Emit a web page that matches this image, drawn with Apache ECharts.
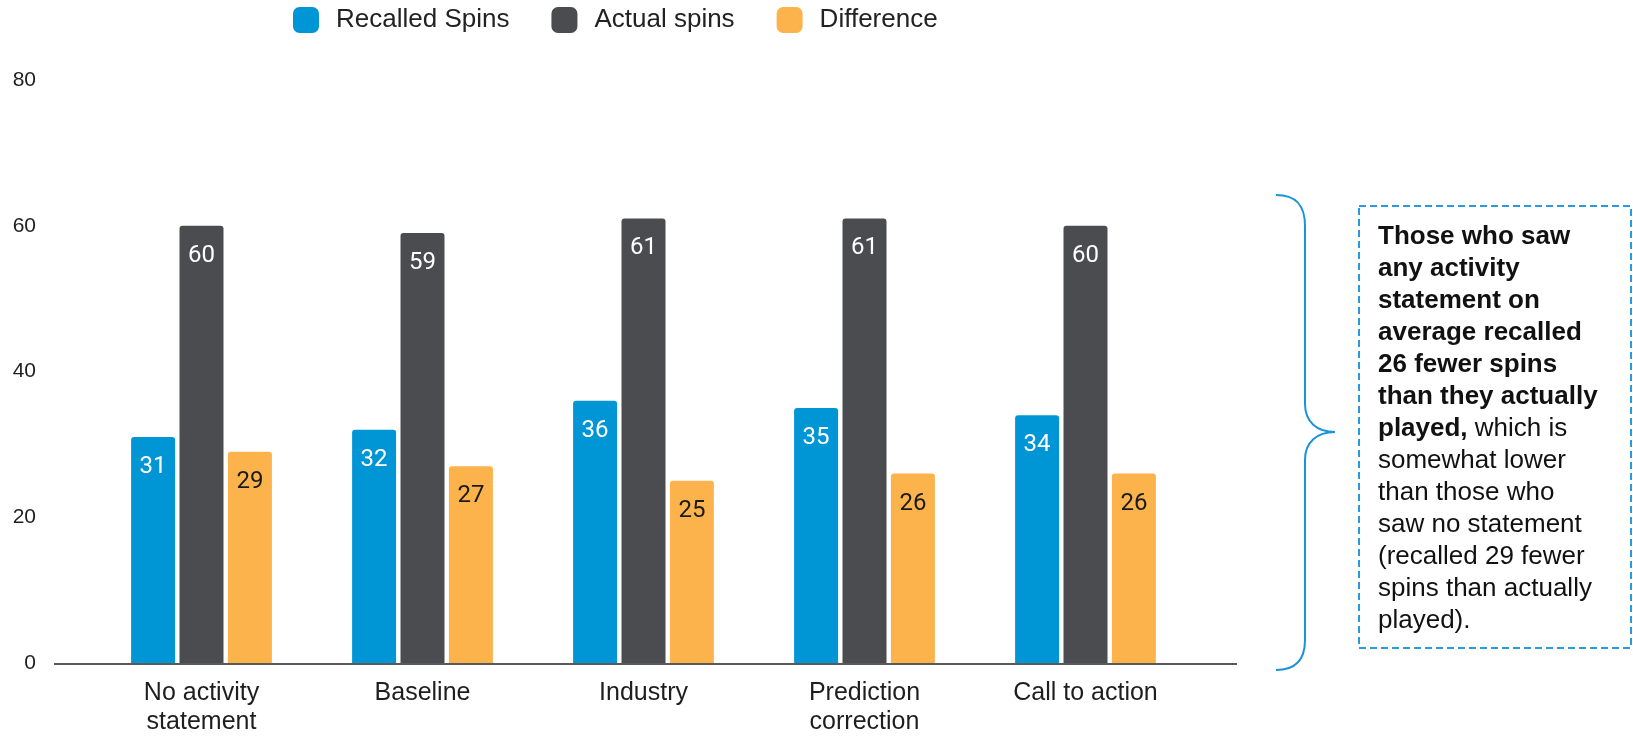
<!DOCTYPE html>
<html>
<head>
<meta charset="utf-8">
<title>Recalled vs actual spins</title>
<script src="https://cdn.jsdelivr.net/npm/echarts@6/dist/echarts.min.js"></script>
<style>
  html, body { margin: 0; padding: 0; background: #ffffff; }
  #chart { width: 1633px; height: 737px; }
</style>
</head>
<body>
<div id="chart"></div>
<script>
// Data
const categories = ['No activity\nstatement', 'Baseline', 'Industry', 'Prediction\ncorrection', 'Call to action'];
const recalledSpins = [31, 32, 36, 35, 34];
const actualSpins = [60, 59, 61, 61, 60];
const difference = [29, 27, 25, 26, 26];
const seriesNames = ['Recalled Spins', 'Actual spins', 'Difference'];
const yTicks = { min: 0, max: 80, interval: 20 };

// Palette and layout
const COLORS = ['#0096D6', '#4B4C50', '#FDB34C'];
const GRID = { left: 91, right: 437, top: 80, bottom: 73 };
const W = 1633, H = 737;
const axisY = H - GRID.bottom;
const BRACE_BLUE = '#1A93D8';

const labelFont = 'Roboto, "Noto Sans", sans-serif';
const textFont = '"Liberation Sans", Arial, sans-serif';

function barSeries(name, data, color, labelColor) {
  return {
    name: name,
    type: 'bar',
    data: data,
    barWidth: 44,
    barGap: '10%',
    itemStyle: { color: color, borderRadius: [3, 3, 0, 0] },
    label: {
      show: true,
      position: 'insideTop',
      distance: 18,
      color: labelColor,
      fontFamily: labelFont,
      fontSize: 24
    },
    emphasis: { disabled: true }
  };
}

// Curly brace pieces: curled ends, two spine segments, pointed middle
const braceStyle = { fill: 'none', stroke: BRACE_BLUE, lineWidth: 2 };
function braceCurve(x1, y1, cpx1, cpy1, cpx2, cpy2, x2, y2) {
  return {
    type: 'bezierCurve', silent: true,
    shape: { x1: x1, y1: y1, cpx1: cpx1, cpy1: cpy1, cpx2: cpx2, cpy2: cpy2, x2: x2, y2: y2 },
    style: braceStyle
  };
}
function braceLine(x1, y1, x2, y2) {
  return { type: 'line', silent: true, shape: { x1: x1, y1: y1, x2: x2, y2: y2 }, style: braceStyle };
}

const chart = echarts.init(document.getElementById('chart'), null, { renderer: 'canvas' });

const option = {
  animation: false,
  backgroundColor: '#ffffff',
  legend: {
    data: seriesNames,
    left: 293,
    top: 7,
    padding: 0,
    itemWidth: 26,
    itemHeight: 26,
    itemGap: 42,
    icon: 'roundRect',
    textStyle: {
      fontFamily: textFont,
      fontSize: 26,
      color: '#222222',
      padding: [0, 0, 0, 12]
    }
  },
  grid: GRID,
  xAxis: {
    type: 'category',
    data: categories,
    axisLine: { show: false },
    axisTick: { show: false },
    axisLabel: {
      margin: 16,
      fontFamily: textFont,
      fontSize: 25,
      lineHeight: 29,
      color: '#1E1E1E',
      interval: 0
    }
  },
  yAxis: {
    type: 'value',
    min: yTicks.min,
    max: yTicks.max,
    interval: yTicks.interval,
    axisLine: { show: false },
    axisTick: { show: false },
    splitLine: { show: false },
    axisLabel: {
      margin: 55,
      fontFamily: textFont,
      fontSize: 21,
      color: '#1E1E1E'
    }
  },
  series: [
    barSeries(seriesNames[0], recalledSpins, COLORS[0], '#FFFFFF'),
    barSeries(seriesNames[1], actualSpins, COLORS[1], '#FFFFFF'),
    barSeries(seriesNames[2], difference, COLORS[2], '#1A1A1A')
  ],
  graphic: [
    // Baseline running past both ends of the category band
    {
      type: 'line',
      silent: true,
      z: 10,
      shape: { x1: 54, y1: axisY, x2: 1237, y2: axisY },
      style: { stroke: '#58595B', lineWidth: 2 }
    },
    braceCurve(1276, 195, 1296, 195, 1305, 205, 1305, 226),
    braceLine(1305, 226, 1305, 404),
    braceCurve(1305, 404, 1305, 422, 1317, 432, 1335, 432),
    braceCurve(1335, 432, 1317, 432, 1305, 442, 1305, 460),
    braceLine(1305, 460, 1305, 640),
    braceCurve(1305, 640, 1305, 660, 1296, 670, 1276, 670),
    // Dashed note box
    {
      type: 'rect',
      silent: true,
      shape: { x: 1359, y: 206, width: 272, height: 442 },
      style: { fill: '#ffffff', stroke: '#2A9BD8', lineWidth: 2, lineDash: [7, 4] }
    },
    {
      type: 'text',
      silent: true,
      z: 20,
      left: 1378,
      top: 221,
      style: {
        text: [
          '{b|Those who saw}',
          '{b|any activity}',
          '{b|statement on}',
          '{b|average recalled}',
          '{b|26 fewer spins}',
          '{b|than they actually}',
          '{b|played,}{n| which is}',
          '{n|somewhat lower}',
          '{n|than those who}',
          '{n|saw no statement}',
          '{n|(recalled 29 fewer}',
          '{n|spins than actually}',
          '{n|played).}'
        ].join('\n'),
        fontFamily: textFont,
        fontSize: 26,
        lineHeight: 32,
        fill: '#111111',
        rich: {
          b: { fontFamily: textFont, fontSize: 26, fontWeight: 'bold', lineHeight: 32, fill: '#111111' },
          n: { fontFamily: textFont, fontSize: 26, fontWeight: 'normal', lineHeight: 32, fill: '#111111' }
        }
      }
    }
  ]
};

chart.setOption(option);
</script>
</body>
</html>
